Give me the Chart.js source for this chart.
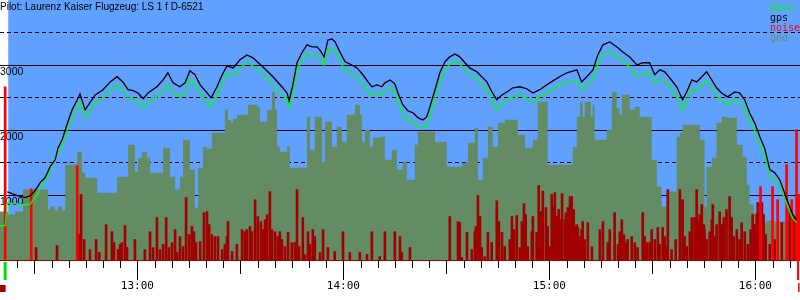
<!DOCTYPE html>
<html><head><meta charset="utf-8">
<script src="https://cdn.jsdelivr.net/npm/chart.js@4.4.1/dist/chart.umd.min.js"></script>
<style>html,body{margin:0;padding:0;background:#fff}canvas{display:block}</style>
</head><body>
<canvas id="c" width="800" height="300"></canvas>
<script>
// ---- text ----
const titleText = 'Pilot: Laurenz Kaiser Flugzeug: LS 1 f D-6521';
const seriesNames = ['baro', 'gps', 'noise', 'gnd'];
// ---- axes (time in minutes after 12:00, altitude in m) ----
const xMin = 20, xMax = 253;
const yMin = 0, yMax = 4000;
const yLabelValues = [1000, 2000, 3000];
const takeoffT = 21.5, landingT = 252.3, skyStartT = 22.4;

// ---- gps altitude ----
const gpsT = [22.1,23.5,25.0,26.4,27.3,28.8,29.7,30.8,31.7,33.1,
34.6,36.1,36.9,38.1,39.5,41.0,42.5,43.3,44.8,46.2,
47.7,50.0,52.1,54.1,55.8,57.3,58.8,60.2,61.7,63.1,
65.7,67.5,68.9,70.4,72.4,73.9,75.3,76.8,78.3,80.3,
81.5,83.2,84.7,86.1,87.9,89.9,91.9,93.7,96.6,99.5,
102.1,103.6,104.2,105.3,106.5,107.9,109.4,110.9,112.3,113.2,
114.4,115.5,116.7,117.6,119.0,120.5,121.9,124.0,125.7,127.2,
128.3,129.8,131.2,132.1,133.6,135.0,135.9,137.3,138.8,140.3,
141.7,143.2,144.3,145.2,146.7,148.1,149.6,151.0,152.5,153.9,
155.4,156.8,158.9,160.3,161.8,163.3,164.7,166.2,167.6,169.4,
171.4,173.4,175.2,177.2,180.1,183.0,185.1,188.0,189.4,190.9,
192.7,194.1,195.6,197.6,199.6,201.4,203.4,205.5,207.2,209.2,
210.7,212.2,213.6,215.1,217.1,218.8,220.0,221.5,222.9,224.4,
225.8,227.3,228.7,230.2,231.9,234.0,235.4,236.9,238.3,239.8,
241.3,242.7,244.2,245.6,247.1,248.5,250.0,250.9,252.0];
const gpsAlt = [1050,1020,990,975,960,990,1035,1115,1190,1265,
1435,1545,1725,1850,2080,2310,2465,2555,2310,2420,
2540,2620,2740,2820,2740,2620,2605,2570,2480,2570,
2665,2770,2880,2725,2665,2725,2910,2850,2695,2570,
2495,2665,2850,2985,2955,3080,3155,3110,2970,2820,
2665,2570,2450,2695,3035,3185,3310,3280,3280,3230,
3125,3385,3400,3355,3200,3050,3015,2955,2850,2740,
2665,2695,2665,2725,2770,2710,2570,2390,2295,2265,
2190,2155,2205,2355,2620,2880,3050,3125,3170,3125,
3035,2955,2895,2820,2740,2585,2465,2540,2585,2650,
2665,2635,2570,2620,2725,2820,2880,2925,2740,2820,
2925,3155,3310,3355,3280,3200,3125,3000,3035,3035,
2850,2925,2895,2800,2665,2465,2585,2770,2740,2820,
2895,2770,2650,2570,2510,2585,2570,2465,2265,2110,
1895,1725,1390,1345,1235,1035,820,700,620];

// ---- baro altitude ----
const baroT = [20.0,21.6,22.1,23.5,25.0,26.4,27.3,28.8,29.7,30.8,31.7,33.1,
34.6,36.1,36.9,38.1,39.5,41.0,42.5,43.3,44.8,46.2,
47.7,50.0,52.1,54.1,55.8,57.3,58.8,60.2,61.7,63.1,
65.7,67.5,68.9,70.4,72.4,73.9,75.3,76.8,78.3,80.3,
81.5,83.2,84.7,86.1,87.9,89.9,91.9,93.7,96.6,99.5,
102.1,103.6,104.2,105.3,106.5,107.9,109.4,110.9,112.3,113.2,
114.4,115.5,116.7,117.6,119.0,120.5,121.9,124.0,125.7,127.2,
128.3,129.8,131.2,132.1,133.6,135.0,135.9,137.3,138.8,140.3,
141.7,143.2,144.3,145.2,146.7,148.1,149.6,151.0,152.5,153.9,
155.4,156.8,158.9,160.3,161.8,163.3,164.7,166.2,167.6,169.4,
171.4,173.4,175.2,177.2,180.1,183.0,185.1,188.0,189.4,190.9,
192.7,194.1,195.6,197.6,199.6,201.4,203.4,205.5,207.2,209.2,
210.7,212.2,213.6,215.1,217.1,218.8,220.0,221.5,222.9,224.4,
225.8,227.3,228.7,230.2,231.9,234.0,235.4,236.9,238.3,239.8,
241.3,242.7,244.2,245.6,247.1,248.5,250.0,250.9,252.0];
const baroAlt = [530,530,880,870,865,850,850,860,930,1005,1085,1205,
1390,1570,1650,1770,1990,2190,2340,2430,2190,2295,
2420,2495,2620,2695,2620,2495,2480,2450,2340,2435,
2510,2605,2710,2570,2510,2570,2785,2725,2555,2435,
2355,2525,2710,2880,2835,2955,3035,2985,2880,2695,
2540,2465,2340,2570,2925,3065,3185,3140,3140,3110,
3000,3250,3265,3215,3065,2910,2880,2820,2710,2585,
2525,2570,2540,2605,2650,2570,2435,2250,2155,2125,
2065,2035,2065,2220,2480,2740,2925,3015,3065,3015,
2925,2850,2800,2710,2620,2465,2310,2405,2465,2510,
2540,2495,2420,2510,2605,2695,2740,2770,2620,2680,
2785,3015,3170,3215,3140,3065,2970,2820,2865,2880,
2725,2785,2755,2665,2525,2310,2450,2635,2605,2680,
2770,2650,2525,2450,2390,2465,2450,2340,2140,1990,
1775,1605,1280,1235,1130,945,745,635,575];

// ---- ground elevation ----
const gndT = [20.0,22.4,24.4,26.7,34.0,34.6,36.0,36.9,38.1,39.0,
42.5,43.9,44.8,48.3,54.1,57.3,59.3,60.2,61.4,62.8,
63.7,67.5,69.5,71.0,72.4,73.3,75.3,76.8,77.7,79.1,
80.3,81.7,85.5,86.4,87.3,87.9,89.0,92.2,94.8,95.7,
97.8,99.2,100.1,100.7,101.5,103.6,104.4,109.4,110.3,111.7,
113.8,114.6,116.7,118.1,119.6,121.0,123.4,124.8,125.4,126.3,
127.7,128.6,130.6,132.1,134.1,135.6,137.3,138.5,140.8,141.7,
146.7,150.1,154.5,156.3,158.3,159.2,160.6,162.1,163.5,165.0,
167.0,170.8,172.9,175.2,176.6,179.5,186.8,188.0,188.9,189.7,
190.3,192.1,192.6,193.2,196.7,198.2,199.6,200.5,201.1,203.4,
204.9,206.3,209.8,211.3,212.7,214.5,217.1,218.0,218.8,223.8,
225.2,225.8,227.3,228.7,230.2,231.6,234.6,236.3,237.5,238.3,
239.5,240.4,242.1,243.3,245.6,250.0,253.0];
const gndAlt = [576,745,699,745,1083,776,822,760,822,760,
1466,1666,1343,1267,1036,1282,1773,1359,1574,1666,
1574,1343,1727,1282,1083,1282,1850,1390,806,1420,
1743,1712,1958,2311,2157,2111,2173,2234,2388,2357,
2127,2311,2587,2311,1743,1666,1758,1420,2203,1697,
2203,1512,2127,1743,2050,1820,2234,2388,2234,1820,
2004,1743,1881,1896,1543,1697,1390,1512,1236,1773,
1973,1820,1436,1497,1804,2034,1236,1574,2050,1743,
2111,2157,1927,1727,1850,2434,1466,1743,2203,2434,
2203,2434,2203,2388,1850,2004,2587,2342,2234,2541,
2311,2357,2203,1543,1129,822,1052,1896,1958,2080,
1850,822,1436,1574,2111,2203,2188,1773,1589,1159,
852,730,622,576,607,591,591];

// ---- engine noise level (0..1000) ----
const noiseT = [30.5,36.6,43.0,43.6,44.5,46.2,48.0,48.9,50.9,52.6,
53.2,54.4,55.0,55.5,56.4,57.0,59.3,62.2,63.7,64.6,
65.7,66.6,67.5,68.4,69.2,70.1,71.0,71.6,72.4,73.3,
74.2,75.1,75.9,76.5,77.1,78.3,79.4,80.3,80.9,81.7,
82.6,83.5,84.7,85.5,86.1,86.4,87.6,89.0,90.5,91.3,
91.9,92.8,93.4,94.3,95.1,96.0,96.6,97.2,97.8,98.6,
99.2,100.1,100.9,101.5,102.1,103.0,103.9,105.0,105.9,106.5,
107.1,108.2,108.8,109.7,110.3,111.1,111.7,113.2,114.1,115.5,
117.5,119.9,121.9,124.8,126.9,128.3,130.6,132.1,135.0,136.5,
137.0,139.4,151.0,153.4,153.9,154.5,156.0,157.4,158.3,158.6,
159.2,159.8,160.3,161.2,162.1,163.2,164.7,165.3,166.2,167.0,
168.5,169.1,169.7,170.5,171.4,172.0,172.6,173.1,173.7,174.9,
175.2,176.3,176.9,177.5,178.1,179.0,179.5,180.1,180.7,181.3,
181.6,182.2,182.7,183.0,183.7,184.5,184.8,185.4,186.0,186.5,
187.1,187.4,188.0,188.3,188.9,189.4,189.7,190.3,191.2,192.4,
194.7,195.6,197.0,197.6,199.0,200.0,200.5,201.1,201.7,202.3,
202.8,204.0,204.9,205.7,207.2,207.8,208.4,209.2,209.8,210.7,
211.6,212.1,213.0,213.6,214.2,214.5,215.6,216.8,218.0,218.8,
219.4,220.0,220.9,221.5,222.3,222.9,223.2,223.8,224.4,225.0,
225.2,225.8,226.7,227.3,227.6,228.2,228.7,229.6,230.2,230.8,
231.6,232.5,233.1,233.7,234.6,235.4,236.0,236.9,237.8,238.6,
239.2,239.8,240.4,240.7,241.3,241.9,242.4,243.0,244.2,245.6,
247.7,250.0,251.4];
const noiseV = [48,56,98,252,79,40,79,29,136,109,
67,40,60,67,132,48,79,40,109,48,
163,40,60,163,48,67,117,29,90,52,
240,98,129,109,67,71,182,186,136,98,
90,90,40,60,90,148,33,60,117,109,
117,129,109,232,167,148,117,155,175,263,
117,109,90,109,79,52,106,67,67,271,
52,163,21,109,60,117,90,29,117,48,
33,109,29,29,21,109,13,109,109,90,
29,48,167,148,144,10,106,40,109,129,
248,167,48,13,106,67,228,148,106,52,
79,167,117,171,48,148,217,175,52,109,
167,106,286,186,265,202,129,52,252,205,
259,167,194,155,255,155,182,202,244,244,
194,129,136,125,90,117,148,79,144,52,
117,148,67,117,182,60,109,155,98,67,
79,90,67,48,182,90,67,67,117,79,
125,60,125,90,52,271,40,79,271,232,
90,52,109,163,163,271,144,175,213,136,
117,79,109,155,213,90,136,186,136,163,
194,244,163,90,117,79,144,109,60,117,
175,136,175,221,213,221,175,98,60,79,
144,194,167];
// noise peaks drawn in bright red
const peakT = [21.5,29.1,42.5,241.5,245.0,246.5,249.1,250.6,252.0,252.6];
const peakV = [666,274,363,282,282,232,367,232,501,252];

const COL = {sky:'rgb(96,160,255)', gnd:'rgb(100,140,100)', baro:'#00ff00', gps:'#000000',
             noise:'#a00000', peak:'#ff0000', legendGnd:'rgb(110,140,110)'};
const legendColors = [COL.baro, COL.gps, COL.peak, COL.legendGnd];

const pts = (t, v) => t.map((x, i) => ({x: x, y: v[i]}));
const hhmm = m => (12 + Math.floor(m / 60)) + ':' + String(m % 60).padStart(2, '0');

const decor = {
  id: 'decor',
  beforeDraw(chart) {
    const {ctx, chartArea: a, scales: {x}} = chart;
    ctx.save();
    ctx.fillStyle = '#fff';
    ctx.fillRect(0, 0, chart.width, chart.height);
    const x0 = x.getPixelForValue(skyStartT);
    ctx.fillStyle = COL.sky;
    ctx.fillRect(x0, a.top, a.right - x0, a.bottom - a.top);
    ctx.restore();
  },
  afterDraw(chart) {
    const {ctx, chartArea: a, scales: {x}} = chart;
    ctx.save();
    // time ticks: 5 min, 30 min, 60 min
    ctx.strokeStyle = '#000'; ctx.lineWidth = 1;
    for (let m = xMin + 5; m <= xMax; m += 5) {
      const px = Math.round(x.getPixelForValue(m)) + 0.5;
      const len = m % 60 === 0 ? 19 : (m % 30 === 0 ? 13 : 7);
      ctx.beginPath(); ctx.moveTo(px, a.bottom + 1); ctx.lineTo(px, a.bottom + 1 + len); ctx.stroke();
    }
    // takeoff / landing markers
    const tp = x.getPixelForValue(takeoffT);
    ctx.fillStyle = '#00e000'; ctx.fillRect(tp - 1.5, a.bottom + 2, 3, 18);
    ctx.fillStyle = COL.noise; ctx.fillRect(tp - 5.5, a.bottom + 25, 6, 7);
    const lp = x.getPixelForValue(landingT);
    ctx.fillStyle = COL.peak; ctx.fillRect(lp - 0.5, a.bottom, 2, 20);
    ctx.fillRect(lp + 0.5, a.bottom + 23, 1.5, 9);
    // title
    ctx.fillStyle = '#000';
    ctx.font = '10px "Liberation Sans", Arial, sans-serif';
    ctx.textBaseline = 'alphabetic'; ctx.textAlign = 'left';
    ctx.fillText(titleText, 0, 10);
    // legend
    ctx.font = '10px "DejaVu Sans Mono", monospace';
    seriesNames.forEach((n, i) => {
      ctx.fillStyle = legendColors[i];
      ctx.fillText(n, 770, 11 + i * 10);
    });
    ctx.restore();
  }
};

const zeroW = s => { s.width = 0; s.paddingTop = 0; s.paddingBottom = 0; s.paddingLeft = 0; s.paddingRight = 0; };

new Chart(document.getElementById('c'), {
  type: 'line',
  data: {
    datasets: [
      {label: 'gps', data: pts(gpsT, gpsAlt), borderColor: COL.gps, borderWidth: 1.3,
       pointRadius: 0, tension: 0, yAxisID: 'y', order: 0},
      {label: 'baro', data: pts(baroT, baroAlt), borderColor: COL.baro, borderWidth: 1.3,
       pointRadius: 0, tension: 0, yAxisID: 'y', order: 1},
      {type: 'bar', label: 'noise peak', data: pts(peakT, peakV), backgroundColor: COL.peak,
       barThickness: 2, grouped: false, yAxisID: 'yn', order: 2},
      {type: 'bar', label: 'noise', data: pts(noiseT, noiseV), backgroundColor: COL.noise,
       barThickness: 2, grouped: false, yAxisID: 'yn', order: 3},
      {label: 'gnd', data: pts(gndT, gndAlt), stepped: 'after', fill: 'origin',
       backgroundColor: COL.gnd, borderWidth: 0, borderColor: 'rgba(0,0,0,0)',
       pointRadius: 0, yAxisID: 'y', order: 4}
    ]
  },
  options: {
    responsive: false, animation: false, devicePixelRatio: 1,
    events: [],
    layout: {padding: 0},
    plugins: {legend: {display: false}, tooltip: {enabled: false}, title: {display: false}},
    scales: {
      x: {
        type: 'linear', position: 'bottom', min: xMin, max: xMax, offset: false,
        grid: {display: false, drawTicks: false},
        border: {display: true, color: COL.noise, width: 2},
        ticks: {stepSize: 5, autoSkip: false, maxRotation: 0, minRotation: 0, padding: 20,
                color: '#000', font: {family: '"DejaVu Sans Mono", monospace', size: 11},
                callback: v => (v % 60 === 0 ? hhmm(v) : '')},
        afterFit: s => { s.height = 40; s.paddingLeft = 0; s.paddingRight = 0; }
      },
      y: {
        type: 'linear', position: 'left', min: yMin, max: yMax, z: 1,
        grid: {drawTicks: false, lineWidth: 1,
               color: c => (c.tick && c.tick.value > yMin && c.tick.value < yMax ? '#000' : 'rgba(0,0,0,0)')},
        border: {display: false},
        ticks: {stepSize: 1000, mirror: true, padding: 0, labelOffset: 7, color: '#000',
                font: {family: '"Liberation Sans", Arial, sans-serif', size: 10.5},
                callback: v => (yLabelValues.includes(v) ? String(v) : '')},
        afterFit: zeroW
      },
      yd: {
        type: 'linear', position: 'left', min: yMin, max: yMax, z: 1,
        grid: {drawTicks: false, lineWidth: 1, borderDash: [4, 3],
               color: c => (c.tick && c.tick.value % 1000 === 500 ? '#000' : 'rgba(0,0,0,0)')},
        border: {display: false, dash: [4, 3]},
        ticks: {stepSize: 500, display: false},
        afterFit: zeroW
      },
      yn: {type: 'linear', min: 0, max: 1000, display: false}
    }
  },
  plugins: [decor]
});
</script>
</body></html>
